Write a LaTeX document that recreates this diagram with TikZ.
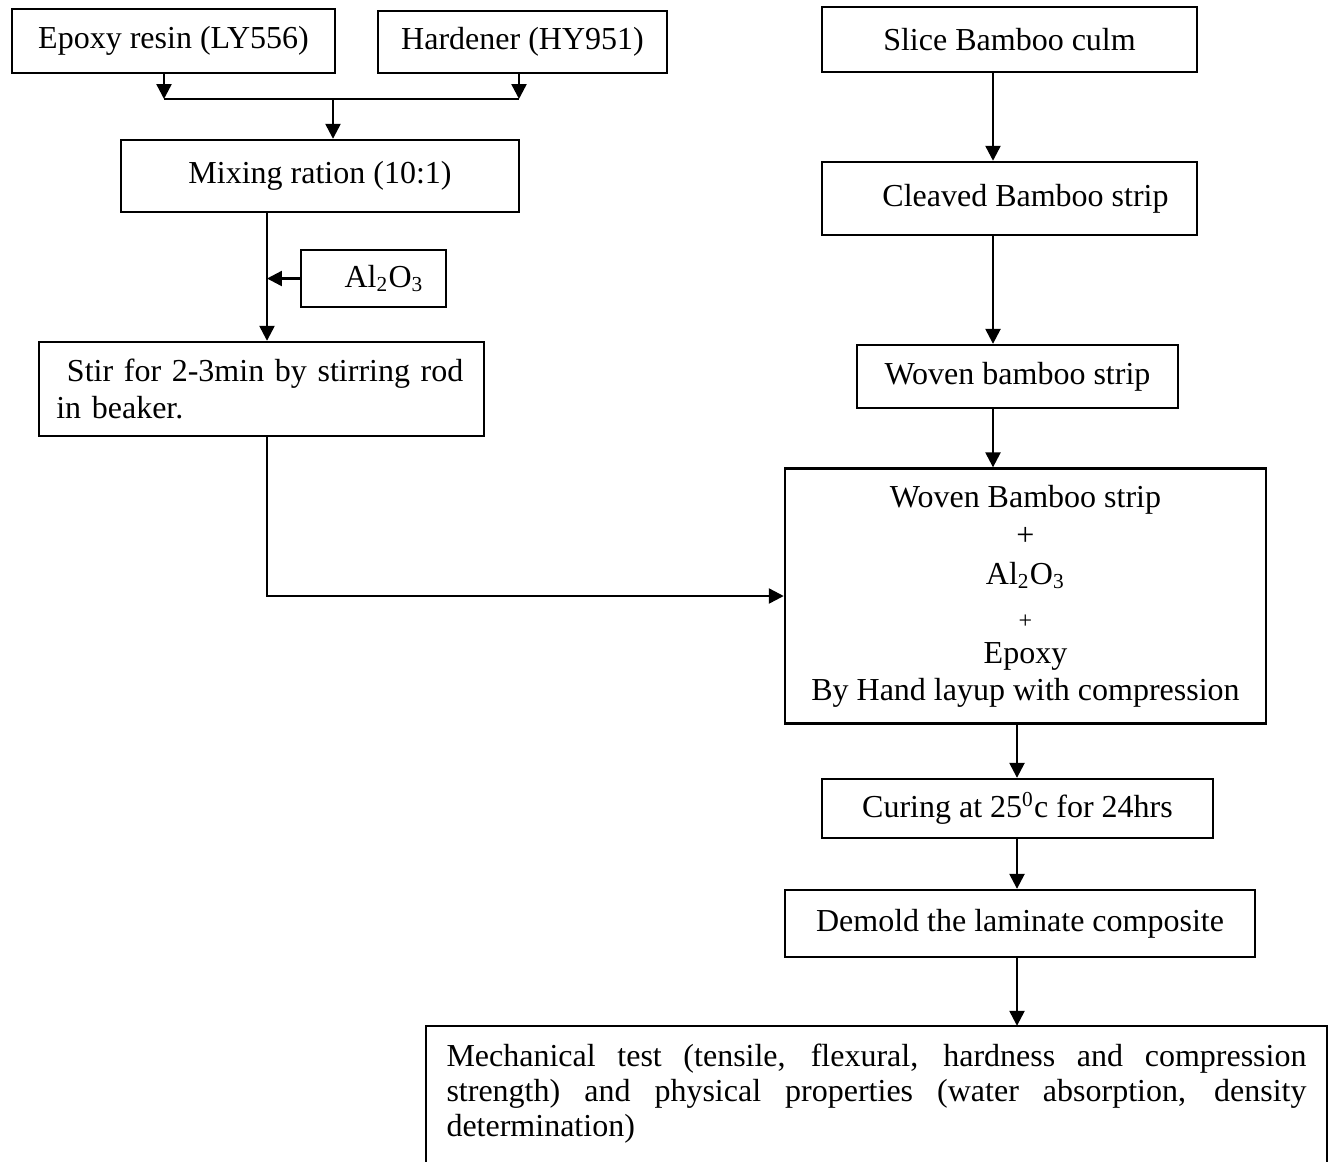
\documentclass[tikz,border=0pt]{standalone}
\usepackage{fontspec}
\setmainfont{Liberation Serif}
\usetikzlibrary{arrows.meta}

\begin{document}
\begin{tikzpicture}[x=0.375pt,y=-0.375pt,
  box/.style={draw,line width=0.9pt,inner sep=0pt,font=\fontsize{12}{13.9}\selectfont},
  arr/.style={line width=0.9pt,-{Triangle[length=5.6pt,width=5.6pt]}},
  line/.style={line width=0.9pt}]
\useasboundingbox (0,0) rectangle (1331,1161);
% left column
\node[box,minimum width=121.1pt,minimum height=24pt] (epoxy) at (173.5,41) {Epoxy resin (LY556)};
\node[box,minimum width=108.4pt,minimum height=23.25pt] (hard) at (522.5,42) {Hardener (HY951)};
\node[box,minimum width=149.25pt,minimum height=27pt] (mix) at (320,176) {Mixing ration (10:1)};
\node[box,minimum width=54.4pt,minimum height=21.4pt] (al) at (373.5,278.5) {\hspace{8pt}Al\textsubscript{2}O\textsubscript{3}};
\node[box,minimum width=166.9pt,minimum height=35.25pt,inner xsep=6.5pt,text width=153.9pt,align=left,
  font=\fontsize{12}{13.6}\selectfont] (stir) at (261.5,389)
  {\hspace*{4pt}Stir for 2-3min by stirring rod\\in beaker.};
%-------------
% right column
\node[box,minimum width=140.6pt,minimum height=24.4pt] (slice) at (1009.5,39.5) {Slice Bamboo culm\hspace{12.75pt}};
\node[box,minimum width=140.6pt,minimum height=27.4pt] (cleave) at (1009.5,198.5) {\hspace{12pt}Cleaved Bamboo strip};
\node[box,minimum width=120.4pt,minimum height=23.6pt] (woven) at (1017.5,376.5) {Woven bamboo strip};
\node[box,minimum width=180.4pt,minimum height=95.6pt,align=center] (layup) at (1025.5,596)
  {Woven Bamboo strip\\[0.6pt] +\\[0.5pt] Al\textsubscript{2}O\textsubscript{3}\\[2.6pt]
   {\fontsize{9}{9}\selectfont +}\\[-0.8pt] Epoxy\\ By Hand layup with compression};
\node[box,minimum width=146.6pt,minimum height=22.1pt] (cure) at (1017.5,808.5) {Curing at 25\textsuperscript{0}c for 24hrs\hspace{15pt}};
\node[box,minimum width=176.25pt,minimum height=25.1pt] (demold) at (1020,923.5) {Demold the laminate composite};
\node[box,draw=none,minimum width=337.1pt,minimum height=50.25pt,inner xsep=7.1pt,text width=322.5pt,align=justify,
  font=\fontsize{12}{13.1}\selectfont] (test) at (876.5,1094)
  {\tolerance=10000 Mechanical test (tensile, flexural, hardness and compression\linebreak
   strength) and physical properties (water absorption, density\linebreak determination)};
\draw[line] (test.south west) |- (test.north east) -- (test.south east);
%-------------
\coordinate (jl) at (164,99);
\coordinate (jm) at (333,99);
\coordinate (jr) at (519,99);
\coordinate (vl) at (267,300);
\coordinate (rc) at (993,0);
\coordinate (cc) at (1017,0);
\draw[arr] (epoxy.south -| jl) -- (jl);
\draw[arr] (hard.south -| jr) -- (jr);
\draw[line] (jl) -- (jr);
\draw[arr] (jm) -- (mix.north -| jm);
\draw[arr] (mix.south -| vl) -- (stir.north -| vl);
\draw[arr] (al.west) -- (al.west -| vl);
\draw[arr] (stir.south -| vl) |- (layup.west);
\foreach \from/\to in {slice/cleave,cleave/woven,woven/layup}
\draw[arr] (\from.south -| rc) -- (\to.north -| rc);
\foreach \from/\to in {layup/cure,cure/demold,demold/test}
\draw[arr] (\from.south -| cc) -- (\to.north -| cc);
\end{tikzpicture}
\end{document}
